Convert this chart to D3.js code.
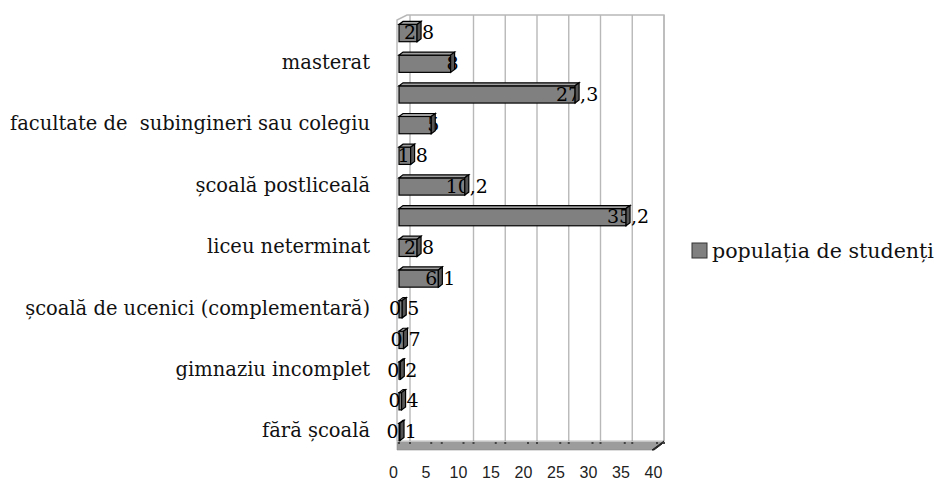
<!DOCTYPE html>
<html>
<head>
<meta charset="utf-8">
<script src="https://d3js.org/d3.v7.min.js"></script>
<style>
  body { margin: 0; background: #fff; }
  svg { display: block; }
</style>
</head>
<body>
<div id="chart"></div>
<script>

// categories bottom -> top (Excel skipped every other label)
var categories = ["fără școală", "", "gimnaziu incomplet", "", "școală de ucenici (complementară)", "",
  "liceu neterminat", "", "școală postliceală", "", "facultate de  subingineri sau colegiu", "", "masterat", ""];
var values = [0.1, 0.4, 0.2, 0.7, 0.5, 6.1, 2.8, 35.2, 10.2, 1.8, 5, 27.3, 8, 2.8];
var tickValues = [0, 5, 10, 15, 20, 25, 30, 35, 40];
var seriesName = "populația de studenți";

var svgWidth = 938;
var svgHeight = 482;
var serif = "DejaVu Serif, serif";

var svg = d3.select("#chart")
  .append("svg")
  .attr("width", svgWidth)
  .attr("height", svgHeight);

// front plane, back wall and label positions of the same value axis
var xFront = d3.scaleLinear().domain([0, 40]).range([399, 657]);
var xBack = d3.scaleLinear().domain([0, 40]).range([410, 664]);
var xLabel = d3.scaleLinear().domain([0, 40]).range([393, 653]);

var y = d3.scaleBand()
  .domain(d3.range(categories.length))
  .range([451, 11])
  .padding(0.34);

var wallTop = 15;
var floorTop = 441;
var floorBottom = 450;

// walls
var walls = svg.append("g");
walls.selectAll("line.grid")
  .data(tickValues.filter(d => d !== 5))
  .enter()
  .append("line")
  .attr("class", "grid")
  .attr("x1", d => xBack(d))
  .attr("x2", d => xBack(d))
  .attr("y1", wallTop)
  .attr("y2", floorTop)
  .attr("stroke", "#b8b8b8")
  .attr("stroke-width", 1.4);

walls.append("path")
  .attr("d", `M397,${floorTop} L397,20 L407,${wallTop} L${xBack(40)},${wallTop} L${xBack(40)},${floorTop}`)
  .attr("fill", "none")
  .attr("stroke", "#b8b8b8")
  .attr("stroke-width", 1.4);

// floor slab
walls.append("path")
  .attr("d", `M397,${floorTop} L664,${floorTop} L652,${floorBottom} L397,${floorBottom} Z`)
  .attr("fill", "#9c9c9c")
  .attr("stroke", "#8a8a8a")
  .attr("stroke-width", 0.6);
walls.append("line")
  .attr("x1", 397).attr("x2", 664)
  .attr("y1", floorTop + 0.5).attr("y2", floorTop + 0.5)
  .attr("stroke", "#c4c4c4");
walls.append("path")
  .attr("d", `M652,${floorBottom} L664,${floorTop} L662,${floorTop + 3} L654,${floorBottom} Z`)
  .attr("fill", "#222")
  .attr("stroke", "#222")
  .attr("stroke-width", 1);

walls.selectAll("rect.ftick")
  .data(tickValues)
  .enter()
  .append("rect")
  .attr("class", "ftick")
  .attr("x", d => xFront(d) - 1)
  .attr("y", floorTop + 1)
  .attr("width", 2)
  .attr("height", 2)
  .attr("fill", "#444");
walls.selectAll("rect.btick")
  .data(tickValues)
  .enter()
  .append("rect")
  .attr("class", "btick")
  .attr("x", d => xBack(d) - 1)
  .attr("y", floorTop + 1)
  .attr("width", 2)
  .attr("height", 2)
  .attr("fill", "#444");

// value axis labels
var bottomAxis = d3.axisBottom(xLabel)
  .tickValues(tickValues)
  .tickSize(0)
  .tickPadding(0);

var xAxis = svg.append("g")
  .attr("transform", "translate(0, 467)")
  .call(bottomAxis);
xAxis.select(".domain").remove();
xAxis.selectAll("text")
  .attr("dy", "0.71em")
  .style("font-family", "Liberation Sans, sans-serif")
  .attr("font-size", 16)
  .attr("fill", "#222");

// category labels
var yAxis = svg.append("g");
var catLabels = yAxis.selectAll("text")
  .data(categories)
  .enter()
  .append("text")
  .attr("x", 370)
  .attr("y", (d, i) => y(i) + y.bandwidth() / 2)
  .attr("dy", "0.35em")
  .attr("text-anchor", "end")
  .style("white-space", "pre")
  .style("font-family", serif)
  .attr("font-size", 20)
  .attr("fill", "#111")
  .text(d => d);

// fit the serif size to the width of the longest label in the picture (~360px)
var longest = catLabels.filter((d, i) => i === 10).node().getComputedTextLength();
if (longest > 0) catLabels.attr("font-size", 20 * 360 / longest);

// 3D bars
var depthX = 4;
var depthY = 3;

var bars = svg.append("g")
  .selectAll("g")
  .data(values)
  .enter()
  .append("g")
  .classed("bar", true);

bars.append("rect")
  .attr("x", xFront(0))
  .attr("y", (d, i) => y(i) + depthY)
  .attr("width", d => Math.max(1, xFront(d) - xFront(0)))
  .attr("height", y.bandwidth() - depthY)
  .attr("fill", "#808080")
  .attr("stroke", "#000")
  .attr("stroke-width", 1.2);

bars.append("path")
  .attr("d", function(d, i) {
    var x0 = xFront(0), x1 = Math.max(x0 + 1, xFront(d)), yt = y(i) + depthY;
    return `M${x0},${yt} L${x1},${yt} L${x1 + depthX},${yt - depthY} L${x0 + depthX},${yt - depthY} Z`;
  })
  .attr("fill", "#a0a0a0")
  .attr("stroke", "#000")
  .attr("stroke-width", 1.2);

// data labels sit on the bar end, the end cap drawn over them
bars.append("text")
  .attr("x", d => xFront(d) + 2)
  .attr("y", (d, i) => y(i) + y.bandwidth() / 2 + 1)
  .attr("dy", "0.35em")
  .attr("text-anchor", "middle")
  .style("font-family", serif)
  .attr("font-size", 19)
  .attr("fill", "#000")
  .text(d => String(d).replace(".", ","));

bars.append("path")
  .attr("d", function(d, i) {
    var x1 = Math.max(xFront(0) + 1, xFront(d)), yt = y(i) + depthY, h = y.bandwidth() - depthY;
    return `M${x1},${yt} L${x1 + depthX},${yt - depthY} L${x1 + depthX},${yt - depthY + h} L${x1},${yt + h} Z`;
  })
  .attr("fill", "#555")
  .attr("stroke", "#000")
  .attr("stroke-width", 1.2);

// legend
var legend = svg.append("g")
  .attr("transform", "translate(692, 243)");
legend.append("rect")
  .attr("width", 15)
  .attr("height", 15)
  .attr("fill", "#808080")
  .attr("stroke", "#333");
var legendText = legend.append("text")
  .attr("x", 20)
  .attr("y", 8)
  .attr("dy", "0.35em")
  .style("font-family", serif)
  .attr("font-size", 20)
  .attr("fill", "#111")
  .text(seriesName);
var legendLen = legendText.node().getComputedTextLength();
if (legendLen > 0) legendText.attr("font-size", 20 * 222 / legendLen);

</script>
</body>
</html>
